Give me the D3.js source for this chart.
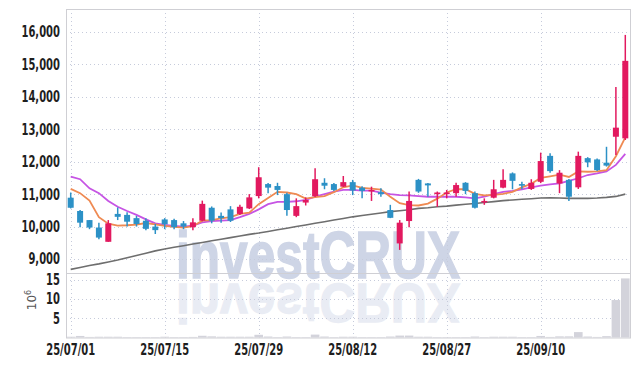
<!DOCTYPE html>
<html>
<head>
<meta charset="utf-8">
<script src="https://cdn.jsdelivr.net/npm/d3@7"></script>
<style>
  body { margin: 0; background: #fff; }
  .tick-label { font-family: "DejaVu Sans Condensed", "DejaVu Sans", sans-serif; font-stretch: condensed; font-size: 15px; font-weight: bold; fill: #1e1e1e; }
</style>
</head>
<body>
<div id="chart"></div>
<script>
var svgWidth = 639;
var svgHeight = 366;

// Trading days shown
var dates = [
  "25/07/01","25/07/02","25/07/03","25/07/04","25/07/07","25/07/08","25/07/09","25/07/10","25/07/11","25/07/14",
  "25/07/15","25/07/16","25/07/17","25/07/18","25/07/21","25/07/22","25/07/23","25/07/24","25/07/25","25/07/28",
  "25/07/29","25/07/30","25/07/31","25/08/01","25/08/04","25/08/05","25/08/06","25/08/07","25/08/08","25/08/11",
  "25/08/12","25/08/13","25/08/14","25/08/18","25/08/19","25/08/20","25/08/21","25/08/22","25/08/25","25/08/26",
  "25/08/27","25/08/28","25/08/29","25/09/01","25/09/02","25/09/03","25/09/04","25/09/05","25/09/08","25/09/09",
  "25/09/10","25/09/11","25/09/12","25/09/15","25/09/16","25/09/17","25/09/18","25/09/19","25/09/22","25/09/23"
];

var opens = [
  10890,10480,10200,9970,9530,10390,10360,10260,10180,10000,
  10220,10200,10100,9980,10180,10580,10330,10530,10390,10560,
  10940,11310,11250,11000,10330,10740,10940,11350,11310,11230,
  11370,11200,11100,11060,10510,9480,10170,11440,11330,11000,
  11000,11030,11350,11030,10760,10890,11200,11640,11310,11160,
  11380,12180,11330,11440,11210,12110,12070,11970,12770,12720
];
var highs = [
  11050,10510,10200,10120,10200,10590,10440,10330,10260,10080,
  10260,10240,10170,10260,10800,10620,10430,10630,10670,11000,
  11830,11340,11350,11040,10870,10900,11800,11490,11340,11560,
  11440,11240,11230,11180,10670,10200,11080,11470,11340,11080,
  11130,11350,11370,11080,10870,11440,11770,11670,11380,11460,
  12280,12260,11740,11470,12310,12140,12100,12460,14300,15910
];
var lows = [
  10560,9980,9920,9610,9530,10200,10000,10000,9890,9770,
  9920,9920,9920,9890,10160,10100,10120,10140,10360,10540,
  10870,11030,10970,10330,10290,10650,10910,11150,11100,11220,
  10970,10870,10790,10920,10260,9280,9980,11040,10920,10610,
  10870,10920,11000,10560,10670,10870,11180,11150,11150,11130,
  11340,11660,11030,10790,11160,11830,11710,11850,12210,12670
];
var closes = [
  10580,10120,9970,9660,10100,10300,10150,10080,9930,9890,
  10070,9980,10000,10130,10700,10180,10260,10180,10610,10900,
  11520,11200,11130,10510,10630,10820,11460,11260,11130,11370,
  11110,11100,11130,11000,10270,10120,10790,11080,11270,11050,
  11050,11280,11100,10580,10790,11150,11440,11410,11260,11350,
  12020,11710,11660,10920,12180,11980,11740,11880,13050,15110
];

// Moving averages as drawn
var ma5 = [
  11160,11030,10800,10290,10090,10030,10040,10060,10110,10070,
  10020,9990,9970,10010,10180,10200,10250,10290,10390,10430,
  10690,10880,11070,11050,11000,10860,10910,10940,11060,11210,
  11270,11190,11170,11140,10920,10720,10660,10650,10710,10860,
  11050,11150,11150,11010,10960,10980,11010,11070,11210,11320,
  11500,11550,11600,11530,11700,11690,11700,11740,12170,12750
];
var ma20 = [
  11540,11460,11180,11030,10790,10610,10480,10360,10220,10100,
  10050,10020,10000,10030,10130,10170,10180,10200,10290,10390,
  10530,10690,10760,10760,10780,10820,10920,11000,11080,11130,
  11130,11110,11110,11050,11000,10970,10960,10940,10920,10920,
  10920,10920,10900,10870,10920,11000,11070,11100,11150,11210,
  11260,11300,11330,11410,11490,11590,11640,11700,11900,12240
];
var ma60 = [
  8680,8740,8800,8850,8910,8970,9040,9110,9180,9250,
  9310,9360,9410,9460,9510,9560,9610,9660,9710,9760,
  9800,9850,9900,9950,10000,10050,10100,10150,10200,10250,
  10300,10340,10380,10420,10460,10490,10520,10560,10580,10610,
  10630,10660,10690,10710,10740,10770,10800,10820,10840,10860,
  10880,10890,10880,10870,10870,10870,10880,10900,10930,11000
];

// Volume in millions of shares
var volumes = [
  0.2,0.4,0.15,0.2,0.2,0.2,0.1,0.1,0.1,0.1,
  0.2,0.1,0.1,0.15,0.45,0.3,0.2,0.2,0.2,0.2,
  0.7,0.25,0.1,0.25,0.1,0.1,0.75,0.25,0.1,0.2,
  0.2,0.1,0.1,0.1,0.25,0.5,0.5,0.2,0.2,0.1,
  0.1,0.1,0.1,0.25,0.1,0.2,0.2,0.2,0.1,0.1,
  0.4,0.15,0.3,0.3,1.4,0.25,0.15,0.35,9.7,15.3
];

var priceTicks = [9000,10000,11000,12000,13000,14000,15000,16000];
var volumeTicks = [5,10,15];
var dateTicks = ["25/07/01","25/07/15","25/07/29","25/08/12","25/08/27","25/09/10"];

var upColor = "#e2195f";
var downColor = "#2c91c6";

var plot = {left: 66, right: 630, top: 9, split: 273, bottom: 337.5};

var svg = d3.select("#chart")
  .append("svg")
  .attr("width", svgWidth)
  .attr("height", svgHeight);

// Scales
var xScale = d3.scaleBand()
  .domain(dates)
  .range([plot.left, plot.right]);

var xMid = d => xScale(d) + xScale.bandwidth() / 2;

var yPrice = d3.scaleLinear()
  .domain([8568, 16709])
  .range([plot.split, plot.top]);

var yVol = d3.scaleLinear()
  .domain([0, 16.7])
  .range([plot.bottom, plot.split]);

// Watermark (text + faded, slightly flattened reflection)
var wm = svg.append("g").attr("pointer-events", "none");
function watermark(transform, opacity) {
  wm.append("text")
    .attr("transform", transform)
    .attr("x", 176)
    .attr("y", 278)
    .attr("textLength", 284)
    .attr("lengthAdjust", "spacingAndGlyphs")
    .attr("font-family", "Liberation Sans, Arial, sans-serif")
    .attr("font-weight", "bold")
    .attr("font-size", 66)
    .attr("fill", "#c3cbe0")
    .attr("stroke", "#c3cbe0")
    .attr("stroke-width", 1.5)
    .attr("opacity", opacity)
    .text("investCRUX");
}
var mirrorY = 281.5;
var flat = 0.85;
watermark(null, 0.8);
watermark(`translate(0, ${mirrorY * (1 + flat)}) scale(1, ${-flat})`, 0.35);

// Grid lines
var grid = svg.append("g")
  .attr("stroke", "#c6cbdb")
  .attr("stroke-width", 1)
  .attr("stroke-dasharray", "1,3");

grid.selectAll(".hgrid")
  .data(priceTicks)
  .enter()
  .append("line")
  .attr("x1", plot.left)
  .attr("x2", plot.right)
  .attr("y1", d => Math.round(yPrice(d)) + 0.5)
  .attr("y2", d => Math.round(yPrice(d)) + 0.5);

grid.selectAll(".vgridv")
  .data(volumeTicks)
  .enter()
  .append("line")
  .attr("x1", plot.left)
  .attr("x2", plot.right)
  .attr("y1", d => Math.round(yVol(d)) + 0.5)
  .attr("y2", d => Math.round(yVol(d)) + 0.5);

grid.selectAll(".xgrid")
  .data(dateTicks)
  .enter()
  .append("line")
  .attr("x1", d => Math.round(xMid(d)) + 0.5)
  .attr("x2", d => Math.round(xMid(d)) + 0.5)
  .attr("y1", plot.top)
  .attr("y2", plot.bottom);

// Volume bars
svg.append("g")
  .selectAll("rect")
  .data(dates)
  .enter()
  .append("rect")
  .attr("x", d => xScale(d) + 0.4)
  .attr("width", xScale.bandwidth() - 0.8)
  .attr("y", (d, i) => yVol(volumes[i]))
  .attr("height", (d, i) => plot.bottom - yVol(volumes[i]))
  .attr("fill", "#d3d3db");

// Moving average lines
function maLine(values) {
  return d3.line()
    .x((d, i) => xMid(dates[i]))
    .y(d => yPrice(d))(values);
}

svg.append("path")
  .attr("d", maLine(ma60))
  .attr("fill", "none")
  .attr("stroke", "#6e6e6e")
  .attr("stroke-width", 1.6);

svg.append("path")
  .attr("d", maLine(ma20))
  .attr("fill", "none")
  .attr("stroke", "#c654e4")
  .attr("stroke-width", 1.8);

svg.append("path")
  .attr("d", maLine(ma5))
  .attr("fill", "none")
  .attr("stroke", "#ef8a52")
  .attr("stroke-width", 1.8);

// Candles
var candles = svg.append("g")
  .selectAll("g")
  .data(dates)
  .enter()
  .append("g");

candles.append("line")
  .attr("x1", d => xMid(d))
  .attr("x2", d => xMid(d))
  .attr("y1", (d, i) => yPrice(highs[i]))
  .attr("y2", (d, i) => yPrice(lows[i]))
  .attr("stroke", (d, i) => closes[i] >= opens[i] ? upColor : downColor)
  .attr("stroke-width", 1.5);

candles.append("rect")
  .attr("x", d => xMid(d) - 3)
  .attr("width", 6)
  .attr("y", (d, i) => yPrice(Math.max(opens[i], closes[i])))
  .attr("height", (d, i) => Math.max(1.5, Math.abs(yPrice(opens[i]) - yPrice(closes[i]))))
  .attr("fill", (d, i) => closes[i] >= opens[i] ? upColor : downColor);

// Frame
var frame = svg.append("g")
  .attr("stroke", "#cfcfd4")
  .attr("stroke-width", 1)
  .attr("fill", "none");
frame.append("rect")
  .attr("x", plot.left + 0.5)
  .attr("y", plot.top + 0.5)
  .attr("width", plot.right - plot.left)
  .attr("height", plot.bottom - plot.top);
frame.append("line")
  .attr("x1", plot.left)
  .attr("x2", plot.right)
  .attr("y1", plot.split + 0.5)
  .attr("y2", plot.split + 0.5);

// Axis labels, squeezed horizontally like the original condensed face
var squeeze = 0.74;
var fmt = d3.format(",");
svg.append("g")
  .selectAll("text")
  .data(priceTicks)
  .enter()
  .append("text")
  .attr("class", "tick-label")
  .attr("transform", d => `translate(60, ${yPrice(d)}) scale(${squeeze}, 1)`)
  .attr("dy", "0.36em")
  .attr("text-anchor", "end")
  .text(d => fmt(d));

svg.append("g")
  .selectAll("text")
  .data(volumeTicks)
  .enter()
  .append("text")
  .attr("class", "tick-label")
  .attr("transform", d => `translate(60, ${yVol(d)}) scale(${squeeze}, 1)`)
  .attr("dy", "0.36em")
  .attr("text-anchor", "end")
  .text(d => d);

svg.append("g")
  .selectAll("text")
  .data(dateTicks)
  .enter()
  .append("text")
  .attr("class", "tick-label")
  .attr("transform", d => `translate(${xMid(d)}, 355) scale(${squeeze}, 1)`)
  .attr("text-anchor", "middle")
  .text(d => d);

// Volume unit label
var unit = svg.append("text")
  .attr("transform", "translate(36, 300) rotate(-90)")
  .attr("text-anchor", "middle")
  .attr("font-family", "DejaVu Sans, sans-serif")
  .attr("font-size", 12)
  .attr("fill", "#555");
unit.append("tspan").text("10");
unit.append("tspan").attr("dy", -5).attr("font-size", 8).text("6");
</script>
</body>
</html>
